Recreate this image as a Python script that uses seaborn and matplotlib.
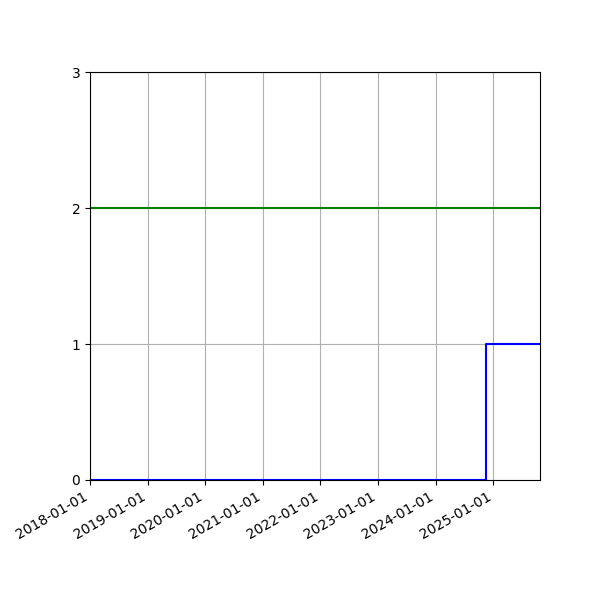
import matplotlib
matplotlib.use("Agg")
import matplotlib.pyplot as plt
import matplotlib.dates as mdates
import seaborn as sns
import pandas as pd

dates = pd.to_datetime(["2018-01-01", "2024-11-15", "2025-10-24"])
blue_values = [0, 1, 1]
green_values = [2, 2, 2]

fig, ax = plt.subplots(figsize=(6, 6), dpi=100)
sns.lineplot(x=dates, y=blue_values, ax=ax, color="blue", drawstyle="steps-post", linewidth=1.5)
sns.lineplot(x=dates, y=green_values, ax=ax, color="green", linewidth=1.5)

ax.set_xlim(dates[0], dates[-1])
ax.set_ylim(0, 3)
ax.set_yticks([0, 1, 2, 3])
ax.xaxis.set_major_locator(mdates.YearLocator())
ax.xaxis.set_major_formatter(mdates.DateFormatter("%Y-%m-%d"))
ax.set_xlabel("")
ax.set_ylabel("")
ax.grid(True)
ax.set_axisbelow(True)
fig.autofmt_xdate()
fig.subplots_adjust(left=0.15, right=0.9, top=0.88, bottom=0.2)
fig.savefig("out.png", dpi=100)
